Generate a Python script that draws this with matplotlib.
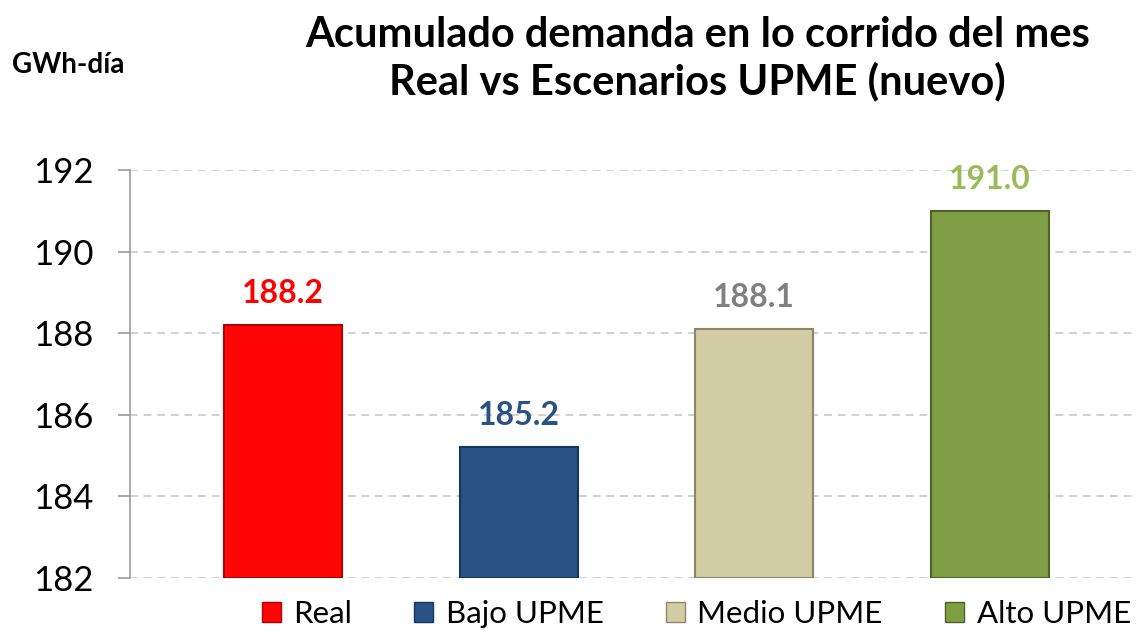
import matplotlib.pyplot as plt
from matplotlib.patches import Patch

plt.rcParams['font.family'] = ['Lato', 'DejaVu Sans']

categories = ['Real', 'Bajo UPME', 'Medio UPME', 'Alto UPME']
values = [188.2, 185.2, 188.1, 191.0]
labels = ['188.2', '185.2', '188.1', '191.0']
bar_colors = ['#FF0606', '#295385', '#D1CCA4', '#7F9E45']
edge_colors = ['#B00000', '#17365D', '#8C8766', '#4F6228']
label_colors = ['#FF0000', '#2A5286', '#808080', '#9BBB59']
yticks = [182, 184, 186, 188, 190, 192]

fig = plt.figure(figsize=(11.36, 6.34), dpi=100)
ax = fig.add_axes([0.1144, 0.0883, 0.885, 0.6436])

x = list(range(len(categories)))
ax.bar(x, [v - 182 for v in values], bottom=182, width=0.5,
       color=bar_colors, edgecolor=edge_colors, linewidth=1.5, zorder=3)

for xi, v, lab, c in zip(x, values, labels, label_colors):
    ax.text(xi, v + 0.42, lab, ha='center', va='bottom', fontsize=23,
            fontweight='bold', color=c, zorder=4)

ax.set_xlim(-0.65, 3.618)
ax.set_ylim(182, 192)
ax.set_yticks(yticks)
ax.set_yticklabels([str(t) for t in yticks], fontsize=25)
ax.set_xticks([])
ax.yaxis.grid(True, linestyle=(0, (4, 3)), color='#D0D0D0', linewidth=1.4, zorder=0)
for s in ['top', 'right', 'bottom']:
    ax.spines[s].set_visible(False)
ax.spines['left'].set_color('#9A9A9A')
ax.spines['left'].set_linewidth(1.2)
ax.tick_params(axis='y', length=9, width=1.2, color='#9A9A9A', pad=17)
ax.set_axisbelow(True)

fig.text(0.614, 0.945, 'Acumulado demanda en lo corrido del mes', ha='center',
         va='center', fontsize=30, fontweight='bold')
fig.text(0.614, 0.872, 'Real vs Escenarios UPME (nuevo)', ha='center',
         va='center', fontsize=30, fontweight='bold')
fig.text(0.011, 0.897, 'GWh-día', ha='left', va='center', fontsize=20,
         fontweight='bold')

handles = [Patch(facecolor=c, edgecolor=e, linewidth=1) for c, e in zip(bar_colors, edge_colors)]
fig.legend(handles, categories, loc='lower center', bbox_to_anchor=(0.613, -0.035),
           ncol=4, frameon=False, fontsize=22.5, handlelength=0.6, handleheight=0.6,
           handletextpad=0.4, columnspacing=2.0)

fig.savefig('out.png', dpi=100)
